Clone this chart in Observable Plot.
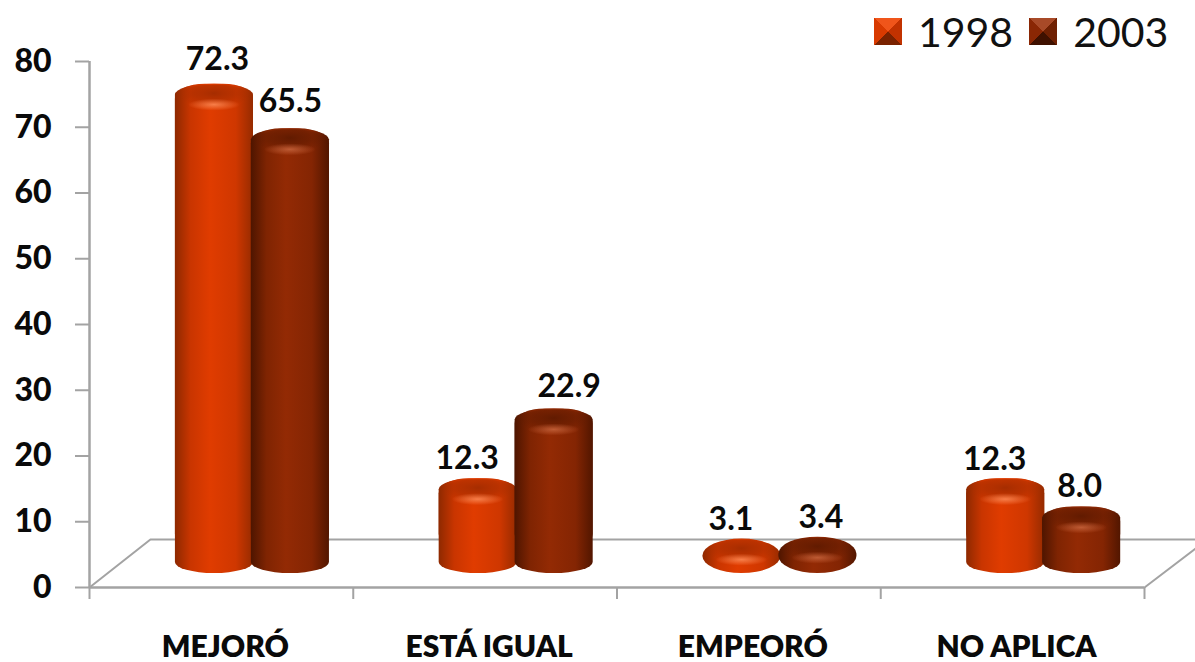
<!DOCTYPE html>
<html><head><meta charset="utf-8">
<script src="https://cdn.jsdelivr.net/npm/d3@7"></script>
<script src="https://cdn.jsdelivr.net/npm/@observablehq/plot@0.6"></script>
<style>
html,body{margin:0;padding:0;background:#fff;overflow:hidden}
#wrap{position:relative;width:1195px;height:662px}
#legend{position:absolute;left:874px;top:6px;height:50px;display:flex;align-items:center;font:400 41px Lato,sans-serif;color:#111}
#legend i{display:inline-block;width:28px;height:27px;margin-right:16px}
#legend span{margin-right:16px}
svg{display:block}
</style></head><body><div id="wrap"><div id="legend"></div></div>
<script>
const categories = ["MEJORÓ","ESTÁ IGUAL","EMPEORÓ","NO APLICA"];
const series = ["1998","2003"];
const values1998 = [72.3,12.3,3.1,12.3];
const values2003 = [65.5,22.9,3.4,8.0];
const valueLabels1998 = ["72.3","12.3","3.1","12.3"];
const valueLabels2003 = ["65.5","22.9","3.4","8.0"];
const yTicks = [0,10,20,30,40,50,60,70,80];
const floorBackX = [0,0.231,4.2], floorBackY = [0,7.3,7.3];
const floorRightX = [4,4.2], floorRightY = [0,6.1];

const rows = s => (s===0?values1998:values2003).map((v,i)=>({cat:i,v,label:(s===0?valueLabels1998:valueLabels2003)[i],s}));
const barW = 0.296, barStep = 0.288;
const x1 = d => d.cat+0.5-barStep+d.s*barStep;
const x2 = d => x1(d)+barW;

const colours = [
 {id:"a",stops:["#8e2900","#c93500","#e03c00","#cf3700","#962b00"],cap:"#a32c00",hi:"#ff8a55"},
 {id:"b",stops:["#4e1500","#7f2402","#932a04","#842503","#521600"],cap:"#5f1a00",hi:"#c8643c"}
];
const defs = () => {
  const html = colours.map(c=>`
  <linearGradient id="body-${c.id}" x1="0" x2="1" y1="0" y2="0">
    ${c.stops.map((col,i)=>`<stop offset="${[0,.2,.45,.78,1][i]}" stop-color="${col}"/>`).join("")}
  </linearGradient>
  <radialGradient id="cap-${c.id}" cx=".5" cy=".3" r=".5">
    <stop offset="0" stop-color="${c.cap}" stop-opacity=".95"/><stop offset=".55" stop-color="${c.cap}" stop-opacity=".55"/>
    <stop offset="1" stop-color="${c.cap}" stop-opacity="0"/>
  </radialGradient>
  <radialGradient id="hi-${c.id}">
    <stop offset="0" stop-color="${c.hi}" stop-opacity=".85"/><stop offset="1" stop-color="${c.hi}" stop-opacity="0"/>
  </radialGradient>`).join("");
  return d3.create("svg:defs").html(html).node();
};

const barMarks = series.flatMap((_,s)=>{
  const data = rows(s), tall = data.filter(d=>d.v>=5), flat = data.filter(d=>d.v<5), c = colours[s];
  const common = {x1,x2,y1:()=>0,y2:"v",dx:30,dy:-14,insetTop:-14,fill:`url(#body-${c.id})`};
  return [
    Plot.rect(tall,{...common,rx:39,ry:11}),
    Plot.rect(tall,{...common,insetBottom:24,rx:30,ry:15}),
    Plot.rect(flat,{...common,rx:39,ry:17}),
    Plot.rect(data,{x1:d=>x1(d)+0.012,x2:d=>x2(d)-0.012,y1:"v",y2:"v",dx:30,insetTop:-27,insetBottom:-2,rx:30,ry:14,fill:`url(#cap-${c.id})`}),
    Plot.rect(data,{x1:d=>x1(d)+0.05,x2:d=>x2(d)-0.05,y1:"v",y2:"v",dx:30,insetTop:-13,insetBottom:1,fill:`url(#hi-${c.id})`})
  ];
});

// per-label nudges, as in the original's manually placed labels
const labelShiftX = [[3,-11,-11,-11],[0,15,3,-2]];
const labelShiftY = [[-52,-48,-47,-47],[-55,-50,-47,-48]];
const labelMarksShifted = series.flatMap((_,s)=>rows(s).map((d,i)=>Plot.text([d],{
  x:e=>(x1(e)+x2(e))/2, y:"v", text:"label",
  dx:30+labelShiftX[s][i], dy:labelShiftY[s][i],
  fontSize:32, fontWeight:700, fontFamily:"Lato, sans-serif", fill:"#0a0a0a"
})));

const grey = "#a3a3a3";
const chart = Plot.plot({
  width:1195, height:662, marginLeft:89, marginRight:51, marginTop:61, marginBottom:75,
  style:{background:"#fff",overflow:"hidden"},
  x:{type:"linear",domain:[0,4],axis:null},
  y:{type:"linear",domain:[0,80],axis:null},
  marks:[
    defs,
    Plot.line(floorBackX.map((x,i)=>({x,y:floorBackY[i]})),{x:"x",y:"y",stroke:grey,strokeWidth:2}),
    Plot.line(floorRightX.map((x,i)=>({x,y:floorRightY[i]})),{x:"x",y:"y",stroke:grey,strokeWidth:2}),
    Plot.ruleY([0],{stroke:grey,strokeWidth:2.5}),
    Plot.ruleX([0],{y1:0,y2:80,stroke:grey,strokeWidth:2.5}),
    Plot.axisY({ticks:yTicks,tickSize:14,tickPadding:24,stroke:grey,strokeWidth:2,fill:"#0a0a0a",fontSize:32,fontWeight:900,fontFamily:"Lato, sans-serif",label:null}),
    Plot.axisX({ticks:[0,1,2,3,4],tickSize:12,tickFormat:()=>"",stroke:grey,strokeWidth:2,label:null}),
    ...barMarks,
    ...labelMarksShifted,
    Plot.text(categories,{x:(d,i)=>i+0.5,y:()=>0,text:d=>d,dx:4,dy:60,fontSize:30,fontWeight:800,fontFamily:"Lato, sans-serif",fill:"#0a0a0a"})
  ]
});
document.getElementById("wrap").prepend(chart);
const legend = document.getElementById("legend");
const swatch = [["#d83a00","#c23200","#7a2200","#f0551a"],["#8a2704","#6f2002","#3f1100","#a84a28"]];
series.forEach((name,s)=>{
  const i=document.createElement("i");
  const [a,b,c,d]=swatch[s];
  i.style.background=`conic-gradient(from 45deg at 50% 50%, ${b} 0 25%, ${c} 25% 50%, ${a} 50% 75%, ${d} 75% 100%)`;
  const t=document.createElement("span"); t.textContent=name;
  legend.append(i,t);
});
</script></body></html>
